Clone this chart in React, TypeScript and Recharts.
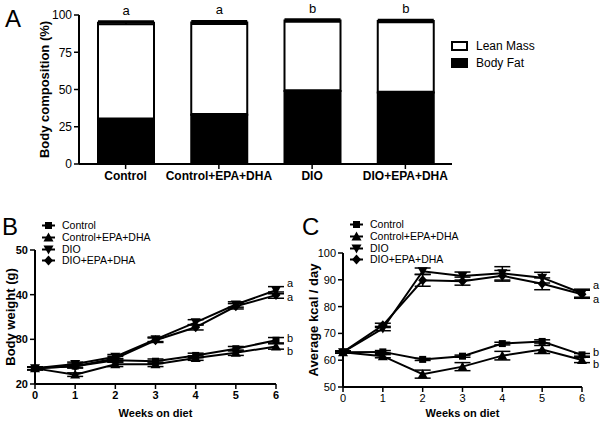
import React from "react";
import {
  Bar,
  BarChart,
  ErrorBar,
  Label,
  LabelList,
  Line,
  LineChart,
  XAxis,
  YAxis,
} from "recharts";

// panel A
const groups = ["Control", "Control+EPA+DHA", "DIO", "DIO+EPA+DHA"];
const bodyFat = [30, 33, 49, 48];
const bodyFatErr = [0.7, 0.7, 0.6, 0.6];
const bodyTotal = [94.8, 95, 96.3, 96];
const bodyTotalErr = [1, 1, 0.8, 0.8];
const groupLetters = ["a", "a", "b", "b"];

// panels B and C
const weeks = [0, 1, 2, 3, 4, 5, 6];
const seriesNames = ["Control", "Control+EPA+DHA", "DIO", "DIO+EPA+DHA"];

const bwControl = [23.5, 24.0, 25.3, 25.1, 26.4, 27.9, 29.8];
const bwControlEpa = [23.5, 22.1, 24.4, 24.4, 25.8, 27.0, 28.4];
const bwDio = [23.5, 24.5, 26.1, 30.0, 33.8, 37.8, 41.0];
const bwDioEpa = [23.5, 24.0, 25.7, 29.8, 32.7, 37.4, 39.9];
const bwControlErr = [0.3, 0.4, 0.4, 0.5, 0.5, 0.5, 0.6];
const bwControlEpaErr = [0.3, 0.4, 0.5, 0.5, 0.5, 0.6, 0.6];
const bwDioErr = [0.3, 0.4, 0.5, 0.5, 0.6, 0.6, 0.8];
const bwDioEpaErr = [0.3, 0.4, 0.5, 0.5, 0.6, 0.6, 0.7];

const kcalControl = [63.0, 63.1, 60.3, 61.5, 66.2, 67.0, 62.0];
const kcalControlEpa = [63.0, 61.5, 54.8, 57.6, 61.7, 64.0, 60.1];
const kcalDio = [63.0, 71.8, 93.2, 91.4, 92.4, 90.8, 85.0];
const kcalDioEpa = [63.0, 73.0, 89.8, 89.5, 91.5, 88.5, 84.6];
const kcalControlErr = [0.4, 0.5, 0.4, 0.4, 0.5, 0.6, 0.5];
const kcalControlEpaErr = [0.4, 0.6, 1.5, 1.5, 1.6, 1.5, 1.0];
const kcalDioErr = [0.4, 0.8, 1.2, 1.5, 2.5, 2.0, 1.5];
const kcalDioEpaErr = [0.4, 0.8, 2.2, 1.5, 2.0, 2.2, 1.5];

const barData = groups.map((g, i) => ({
  group: g,
  fat: bodyFat[i],
  fatErr: bodyFatErr[i],
  lean: +(bodyTotal[i] - bodyFat[i]).toFixed(1),
  leanErr: bodyTotalErr[i],
  letter: groupLetters[i],
}));

const bwData = weeks.map((w, i) => ({
  week: w,
  s0: bwControl[i],
  s1: bwControlEpa[i],
  s2: bwDio[i],
  s3: bwDioEpa[i],
  e0: bwControlErr[i],
  e1: bwControlEpaErr[i],
  e2: bwDioErr[i],
  e3: bwDioEpaErr[i],
}));

const kcalData = weeks.map((w, i) => ({
  week: w,
  s0: kcalControl[i],
  s1: kcalControlEpa[i],
  s2: kcalDio[i],
  s3: kcalDioEpa[i],
  e0: kcalControlErr[i],
  e1: kcalControlEpaErr[i],
  e2: kcalDioErr[i],
  e3: kcalDioEpaErr[i],
}));

const font = '"Liberation Sans", Arial, Helvetica, sans-serif';
const markers = ["square", "up", "down", "diamond"];

function Marker({ kind, cx, cy }: { kind: string; cx: number; cy: number }) {
  if (kind === "square")
    return <rect x={cx - 3.5} y={cy - 3.5} width={7} height={7} fill="#000" />;
  if (kind === "up")
    return <polygon points={`${cx},${cy - 5} ${cx - 5},${cy + 4} ${cx + 5},${cy + 4}`} fill="#000" />;
  if (kind === "down")
    return <polygon points={`${cx - 5},${cy - 4} ${cx + 5},${cy - 4} ${cx},${cy + 5}`} fill="#000" />;
  return <polygon points={`${cx},${cy - 5} ${cx + 4.5},${cy} ${cx},${cy + 5} ${cx - 4.5},${cy}`} fill="#000" />;
}

const dotFor = (kind: string) => (p: any) => (
  <Marker key={`${kind}-${p.index}`} kind={kind} cx={p.cx} cy={p.cy} />
);

const endLetter = (letter: string, dy: number) => (p: any) => {
  if (p.index !== weeks.length - 1) return null;
  return (
    <text
      x={p.x + 11}
      y={p.y + dy}
      fontSize={11}
      dominantBaseline="central"
      style={{ fill: "#000", stroke: "none" }}
    >
      {letter}
    </text>
  );
};

const yTitle = (text: string, x: number) => (p: any) => {
  const vb = p.viewBox;
  const cy = vb.y + vb.height / 2;
  return (
    <text
      x={x}
      y={cy}
      transform={`rotate(-90 ${x} ${cy})`}
      textAnchor="middle"
      dominantBaseline="central"
      fontSize={13}
      fontWeight="bold"
      style={{ fill: "#000" }}
    >
      {text}
    </text>
  );
};

function LineLegend({ left, top }: { left: number; top: number }) {
  return (
    <div style={{ position: "absolute", left, top }}>
      {seriesNames.map((name, i) => (
        <div key={name} style={{ display: "flex", alignItems: "center", height: 11.7 }}>
          <svg width={20} height={11} style={{ display: "block" }}>
            <line x1={0} x2={13} y1={5.5} y2={5.5} stroke="#000" strokeWidth={2} />
            <Marker kind={markers[i]} cx={6.5} cy={5.5} />
          </svg>
          <span style={{ fontSize: 10.5, lineHeight: "11px", color: "#000" }}>{name}</span>
        </div>
      ))}
    </div>
  );
}

function LinePanel({
  data,
  domain,
  ticks,
  title,
  titleX,
  yWidth,
  top,
  right,
  xHeight,
  letters,
  boldTicks,
}: any) {
  const tick = { fill: "#000", fontSize: 11, fontWeight: boldTicks ? "bold" : "normal" };
  return (
    <LineChart width={300} height={212} data={data} margin={{ top, right, bottom: 0, left: 0 }}>
      <XAxis
        dataKey="week"
        type="number"
        domain={[0, 6]}
        ticks={weeks}
        height={xHeight}
        tick={tick}
        tickSize={5}
        axisLine={{ stroke: "#000", strokeWidth: 2 }}
        tickLine={{ stroke: "#000", strokeWidth: 1.5 }}
      >
        <Label
          value="Weeks on diet"
          position="insideBottom"
          offset={5}
          style={{ fontSize: 11, fontWeight: "bold", fill: "#000" }}
        />
      </XAxis>
      <YAxis
        domain={domain}
        ticks={ticks}
        width={yWidth}
        tick={tick}
        tickSize={5}
        axisLine={{ stroke: "#000", strokeWidth: 2 }}
        tickLine={{ stroke: "#000", strokeWidth: 1.5 }}
      >
        <Label content={yTitle(title, titleX)} />
      </YAxis>
      {[0, 1, 2, 3].map((i) => (
        <Line
          key={i}
          dataKey={`s${i}`}
          stroke="#000"
          strokeWidth={2}
          dot={dotFor(markers[i])}
          activeDot={false}
          isAnimationActive={false}
        >
          <ErrorBar dataKey={`e${i}`} width={8} stroke="#000" strokeWidth={1.5} direction="y" />
          <LabelList content={endLetter(letters[i][0], letters[i][1])} />
        </Line>
      ))}
    </LineChart>
  );
}

const panelLabel = (left: number, top: number) => ({
  position: "absolute" as const,
  left,
  top,
  fontSize: 24,
  lineHeight: "24px",
});

export default function App() {
  return (
    <div
      style={{
        position: "absolute",
        left: 0,
        top: 0,
        width: 600,
        height: 422,
        background: "#fff",
        fontFamily: font,
        color: "#000",
      }}
    >
      {/* panel A */}
      <div style={{ position: "absolute", left: 0, top: 0 }}>
        <BarChart width={600} height={200} data={barData} margin={{ top: 15, right: 148, bottom: 0, left: 0 }}>
          <XAxis
            dataKey="group"
            height={36}
            tick={{ fill: "#000", fontSize: 12, fontWeight: "bold" }}
            tickSize={5}
            axisLine={{ stroke: "#000", strokeWidth: 2 }}
            tickLine={{ stroke: "#000", strokeWidth: 1.5 }}
          />
          <YAxis
            domain={[0, 100]}
            ticks={[0, 25, 50, 75, 100]}
            width={79}
            tick={{ fill: "#000", fontSize: 12 }}
            tickSize={5}
            axisLine={{ stroke: "#000", strokeWidth: 2 }}
            tickLine={{ stroke: "#000", strokeWidth: 1.5 }}
          >
            <Label content={yTitle("Body composition (%)", 44)} />
          </YAxis>
          <Bar dataKey="fat" stackId="s" barSize={56} fill="#000" stroke="#000" strokeWidth={2} isAnimationActive={false}>
            <ErrorBar dataKey="fatErr" width={28} stroke="#000" strokeWidth={1.5} direction="y" />
          </Bar>
          <Bar dataKey="lean" stackId="s" barSize={56} fill="#fff" stroke="#000" strokeWidth={2} isAnimationActive={false}>
            <ErrorBar dataKey="leanErr" width={28} stroke="#000" strokeWidth={2} direction="y" />
            <LabelList dataKey="letter" position="top" offset={8} style={{ fontSize: 13, fill: "#000" }} />
          </Bar>
        </BarChart>
      </div>
      <div style={{ position: "absolute", left: 451, top: 37, fontSize: 12 }}>
        <div style={{ display: "flex", alignItems: "center", height: 17 }}>
          <div style={{ width: 13, height: 6, border: "2px solid #000", background: "#fff", marginRight: 8 }} />
          Lean Mass
        </div>
        <div style={{ display: "flex", alignItems: "center", height: 17 }}>
          <div style={{ width: 17, height: 10, background: "#000", marginRight: 8 }} />
          Body Fat
        </div>
      </div>
      <div style={panelLabel(5, 7)}>A</div>

      {/* panel B */}
      <div style={{ position: "absolute", left: 0, top: 210 }}>
        <LinePanel
          data={bwData}
          domain={[20, 50]}
          ticks={[20, 30, 40, 50]}
          title="Body weight (g)"
          titleX={10}
          yWidth={35}
          top={40}
          right={24}
          xHeight={38}
          boldTicks
          letters={[["b", -2], ["b", 5], ["a", -7], ["a", 2]]}
        />
      </div>
      <LineLegend left={42} top={220} />
      <div style={panelLabel(2, 215)}>B</div>

      {/* panel C */}
      <div style={{ position: "absolute", left: 300, top: 210 }}>
        <LinePanel
          data={kcalData}
          domain={[50, 100]}
          ticks={[50, 60, 70, 80, 90, 100]}
          title="Average kcal / day"
          titleX={13}
          yWidth={43}
          top={43}
          right={18}
          xHeight={35}
          letters={[["b", -3], ["b", 4], ["a", -8], ["a", 5]]}
        />
      </div>
      <LineLegend left={350} top={219} />
      <div style={panelLabel(302, 215)}>C</div>
    </div>
  );
}
